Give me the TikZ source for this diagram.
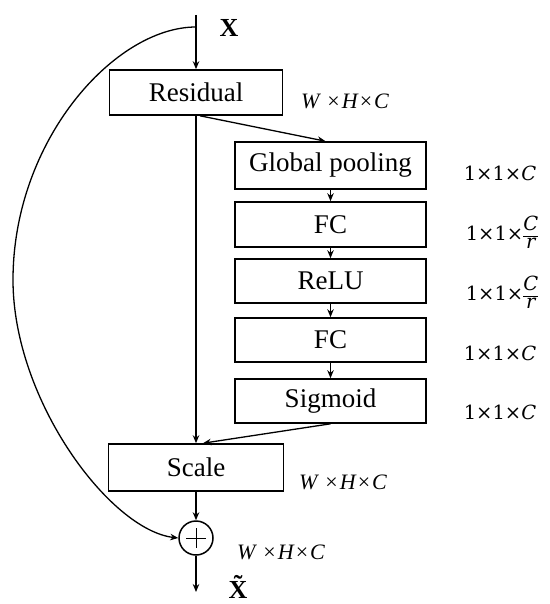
\documentclass[tikz,border=0pt]{standalone}
\usepackage{fontspec}
\setmainfont{Liberation Serif}
\newfontfamily\dimfont{DejaVu Serif}
\usetikzlibrary{arrows.meta,calc}
\newcommand{\fracCr}{{\renewcommand{\arraystretch}{0.8}\setlength{\arrayrulewidth}{0.9pt}\begin{tabular}[c]{@{}c@{}}\itshape C\\\hline\itshape r\end{tabular}}}
\newcommand{\whc}{W\hspace{8pt}\upshape×\hspace{2pt}\itshape H\hspace{2pt}\upshape×\hspace{2pt}\itshape C}
\begin{document}
\begin{tikzpicture}[x=1pt,y=-1pt,
  box/.style={draw,line width=1.6pt,inner sep=0pt,font=\fontsize{27}{30}\selectfont},
  conn/.style={line width=1.3pt,-{Stealth[length=8pt,width=6.5pt]}},
  wlab/.style={inner sep=0pt,font=\itshape\fontsize{22}{24}\selectfont},
  dlab/.style={inner sep=0pt,font=\dimfont\fontsize{19.5}{22}\selectfont},
  xlab/.style={inner sep=0pt,font=\bfseries\fontsize{26}{30}\selectfont},
]
\useasboundingbox (0,0) rectangle (549,604);
% boxes
\node[box,minimum width=173pt,minimum height=45pt] (res) at (196,92.5) {Residual};
\node[box,minimum width=191pt,minimum height=47pt] (gp) at (330.5,165.5) {Global pooling};
\node[box,minimum width=191pt,minimum height=45pt] (fc1) at (330.5,224.5) {FC};
\node[box,minimum width=191pt,minimum height=44pt] (relu) at (330.5,281) {ReLU};
\node[box,minimum width=191pt,minimum height=44pt] (fc2) at (330.5,340) {FC};
\node[box,minimum width=191pt,minimum height=44pt] (sig) at (330.5,401) {Sigmoid};
\node[box,minimum width=175pt,minimum height=47pt] (scale) at (196,467.5) {Scale};
\node[draw,circle,line width=1.5pt,minimum size=34pt,inner sep=0pt] (plus) at (196,538) {};
\draw[line width=0.7pt] ($(plus)+(-10,0)$) -- ($(plus)+(10,0)$) ($(plus)+(0,-10)$) -- ($(plus)+(0,10)$);
% labels
\node[xlab] (xin) at (229,28) {X};
\node[xlab,anchor=base] (xout) at (238,598) {\~{X}};
\node[wlab] (lres) at (345,101) {\whc};
\node[wlab] (lsc) at (343,482) {\whc};
\node[wlab] (lpl) at (281,552) {\whc};
\node[dlab] (lgp) at (500,173) {1×1×\textit{C}};
\node[dlab] (lfc1) at (502,235) {1×1×\fracCr};
\node[dlab] (lrelu) at (502,295) {1×1×\fracCr};
\node[dlab] (lfc2) at (500,353) {1×1×\textit{C}};
\node[dlab] (lsig) at (500,412) {1×1×\textit{C}};
% coordinates
\coordinate (top) at (196,15);
\coordinate (split) at (196,27);
\coordinate (bot) at (196,592);
% connectors
\draw[conn] (top) -- (res.north);
\draw[conn] (res.south) -- (scale.north);
\draw[conn] ($(res.south)+(4,0)$) -- ($(gp.north)+(-5,0)$);
\draw[conn] (gp.south) -- (fc1.north);
\draw[conn] (fc1.south) -- (relu.north);
\draw[conn] (relu.south) -- (fc2.north);
\draw[conn] (fc2.south) -- (sig.north);
\draw[conn] (sig.south) -- ($(scale.north)+(7,0)$);
\draw[conn] (scale.south) -- (plus.north);
\draw[conn] (plus.south) -- (bot);
\draw[conn] (split) .. controls (115,27) and (13,140) .. (13,280) .. controls (13,400) and (110,530) .. (plus.west);
\end{tikzpicture}
\end{document}
